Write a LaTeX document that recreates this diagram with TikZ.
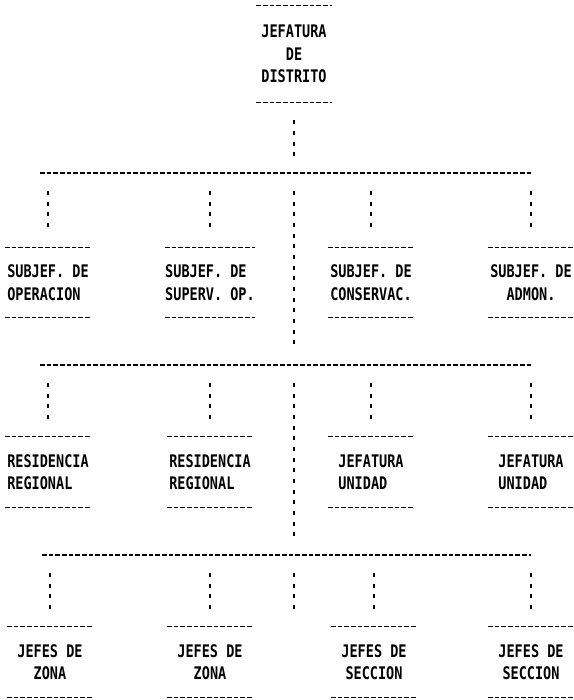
\documentclass[tikz,border=0pt]{standalone}
\usepackage{fontspec}
\usepackage{tikz}
\usetikzlibrary{calc, positioning}
\newfontfamily\matriz[FakeStretch=0.78]{DejaVu Sans Mono}

\tikzset{
	caja/.style={inner sep=0pt, minimum width=64pt, minimum height=52.5pt, font=\matriz\bfseries\fontsize{13}{16.8}\selectfont},
	raya/.style={line width=0.9pt, dash pattern=on 3.5pt off 1.5pt},
	baja/.style={line width=0.9pt, dash pattern=on 3pt off 5pt, shorten <=13.5pt, shorten >=11pt}
}

\begin{document}
\begin{tikzpicture}[x=0.75pt, y=-0.75pt]
		\useasboundingbox (0,0) rectangle (574,700);
		
		% Head of the district
		\node[caja, align=center, minimum width=56pt, minimum height=72pt] (jefe) at (294,54) {JEFATURA\\DE\\DISTRITO};
		
		% Levels of the trunk
		\coordinate (h1) at (294,173);
		\coordinate (h2) at (294,365);
		\coordinate (h3) at (294,555);
		\coordinate (fin) at (294,612);
		
		% Subjefaturas
		\node[caja, align=left] (s1) at (48,282.5) {SUBJEF. DE\\OPERACION};
		\node[caja, align=left] (s2) at (210,282.5) {SUBJEF. DE\\SUPERV. OP.};
		\node[caja, align=left] (s3) at (371,282.5) {SUBJEF. DE\\CONSERVAC.};
		\node[caja, align=center] (s4) at (531,282.5) {SUBJEF. DE\\ADMON.};
		
		% Residencias and units
		\node[caja, align=left] (r1) at (48,472) {RESIDENCIA\\REGIONAL};
		\node[caja, align=left] (r2) at (210,472) {RESIDENCIA\\REGIONAL};
		\node[caja, align=left] (r3) at (371,472) {JEFATURA\\UNIDAD};
		\node[caja, align=left] (r4) at (531,472) {JEFATURA\\UNIDAD};
		
		% Jefes
		\node[caja, align=center] (z1) at (50,662) {JEFES DE\\ZONA};
		\node[caja, align=center] (z2) at (210,662) {JEFES DE\\ZONA};
		\node[caja, align=center] (z3) at (374,662) {JEFES DE\\SECCION};
		\node[caja, align=center] (z4) at (531,662) {JEFES DE\\SECCION};
		
		% Dashes above and below each box
		\foreach \n in {jefe,s1,s2,s3,s4,r1,r2,r3,r4,z1,z2,z3,z4} {
			\draw[raya] (\n.north west) -- (\n.north east);
			\draw[raya] (\n.south west) -- (\n.south east);
		}
		
		% Horizontal lines and drops
		\foreach \h/\r in {h1/s, h2/r, h3/z} {
			\draw[raya, shorten <=-6pt] (\r1 |- \h) -- (\r4 |- \h);
			\foreach \i in {1,...,4}
				\draw[baja] (\r\i |- \h) -- (\r\i.north);
		}
		
		% Trunk
		\draw[baja] (jefe.south) -- (h1);
		\draw[baja] (h1) -- (h2);
		\draw[baja] (h2) -- (h3);
		\draw[baja, shorten >=0pt] (h3) -- (fin);
	\end{tikzpicture}
\end{document}
